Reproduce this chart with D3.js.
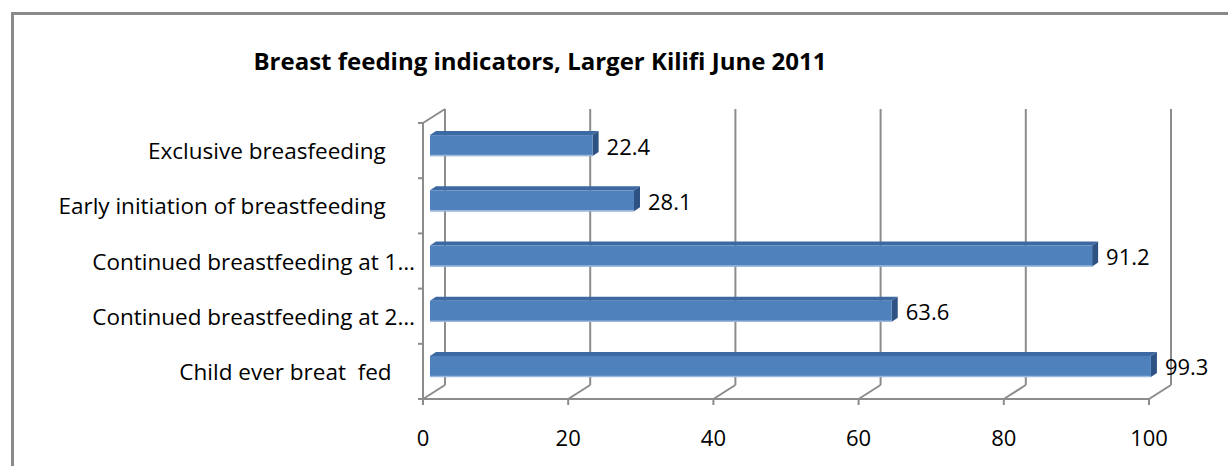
<!DOCTYPE html>
<html>
<head>
<meta charset="utf-8">
<script src="https://cdn.jsdelivr.net/npm/d3@7"></script>
<style>
  body { margin: 0; background: #fff; }
  text { font-family: "Open Sans", sans-serif; fill: #000; }
</style>
</head>
<body>
<div id="chart"></div>
<script>
// data (top to bottom)
const categories = [
  "Exclusive breasfeeding     ",
  "Early initiation of breastfeeding     ",
  "Continued breastfeeding at 1\u2026",
  "Continued breastfeeding at 2\u2026",
  "Child ever breat  fed    "
];
const values = [22.4, 28.1, 91.2, 63.6, 99.3];
const xTicks = [0, 20, 40, 60, 80, 100];
const title = "Breast feeding indicators, Larger Kilifi June 2011";

const W = 1228, H = 466;

// 3D offsets: back wall and bar planes
const wall = {dx: 22, dy: -14};
const barFront = {dx: 7, dy: -5};
const barDepth = {dx: 6, dy: -4};
const barH = 21;

const svg = d3.select("#chart")
  .append("svg")
  .attr("width", W)
  .attr("height", H);

// chart frame
svg.append("rect")
  .attr("x", 12.5).attr("y", 13.5)
  .attr("width", 1300).attr("height", 600)
  .attr("fill", "none")
  .attr("stroke", "#8a8a8a")
  .attr("stroke-width", 3);

svg.append("text")
  .attr("x", 540).attr("y", 60)
  .attr("text-anchor", "middle")
  .attr("dominant-baseline", "central")
  .style("font-weight", "bold")
  .style("font-size", "24px")
  .text(title);

const x = d3.scaleLinear().domain([0, 100]).range([423, 1149]);
const y = d3.scaleBand().domain(categories).range([123, 399]);
const yBottom = 399;
const yTop = 123;

const grid = svg.append("g")
  .attr("stroke", "#8c8c8c")
  .attr("stroke-width", 2)
  .attr("fill", "none");

// back wall gridlines
grid.selectAll(".vg")
  .data(xTicks)
  .join("line")
  .attr("x1", d => x(d) + wall.dx).attr("x2", d => x(d) + wall.dx)
  .attr("y1", yTop + wall.dy).attr("y2", yBottom + wall.dy);

// floor diagonals
grid.selectAll(".fd")
  .data(xTicks)
  .join("line")
  .attr("x1", d => x(d)).attr("x2", d => x(d) + wall.dx)
  .attr("y1", yBottom).attr("y2", yBottom + wall.dy);

// front value axis
grid.append("line")
  .attr("x1", x(0)).attr("x2", x(100))
  .attr("y1", yBottom).attr("y2", yBottom);
grid.selectAll(".xt")
  .data(xTicks)
  .join("line")
  .attr("x1", d => x(d)).attr("x2", d => x(d))
  .attr("y1", yBottom).attr("y2", yBottom + 6);

// category axis (front edge of side wall)
grid.append("line")
  .attr("x1", x(0)).attr("x2", x(0))
  .attr("y1", yTop).attr("y2", yBottom);
grid.append("line")
  .attr("x1", x(0)).attr("x2", x(0) + wall.dx)
  .attr("y1", yTop).attr("y2", yTop + wall.dy);
const bounds = categories.map(c => y(c)).concat([yBottom]);
grid.selectAll(".yt")
  .data(bounds)
  .join("line")
  .attr("x1", x(0) - 5).attr("x2", x(0))
  .attr("y1", d => d).attr("y2", d => d);

// bars
const bars = svg.append("g").selectAll("g")
  .data(categories.map((c, i) => ({c, v: values[i]})))
  .join("g");

const y1 = d => y(d.c) + y.bandwidth() / 2 + barFront.dy - barH / 2;
const x0 = x(0) + barFront.dx;
const xe = d => x(d.v) + barFront.dx;

// top face
bars.append("path")
  .attr("fill", "#3d69a3")
  .attr("d", d => `M${x0},${y1(d)} L${x0 + barDepth.dx},${y1(d) + barDepth.dy} L${xe(d) + barDepth.dx},${y1(d) + barDepth.dy} L${xe(d)},${y1(d)} Z`);
// end face
bars.append("path")
  .attr("fill", "#2e5283")
  .attr("d", d => `M${xe(d)},${y1(d)} L${xe(d) + barDepth.dx},${y1(d) + barDepth.dy} L${xe(d) + barDepth.dx},${y1(d) + barH + barDepth.dy} L${xe(d)},${y1(d) + barH} Z`);
// front face
bars.append("rect")
  .attr("x", x0)
  .attr("y", y1)
  .attr("width", d => xe(d) - x0)
  .attr("height", barH)
  .attr("fill", "#4f81bd");
bars.append("line")
  .attr("x1", x0).attr("x2", d => xe(d))
  .attr("y1", d => y1(d) + barH - 0.5).attr("y2", d => y1(d) + barH - 0.5)
  .attr("stroke", "#9db8dc").attr("stroke-width", 1.5);

// value labels
bars.append("text")
  .attr("x", d => xe(d) + barDepth.dx + 8)
  .attr("y", d => y1(d) + barH / 2)
  .attr("dominant-baseline", "central")
  .style("font-size", "22px")
  .text(d => d.v.toFixed(1));

// category labels
svg.append("g").selectAll("text")
  .data(categories)
  .join("text")
  .attr("x", 415)
  .attr("y", d => y(d) + y.bandwidth() / 2)
  .attr("text-anchor", "end")
  .attr("dominant-baseline", "central")
  .style("white-space", "pre")
  .style("font-size", "22.5px")
  .text(d => d);

// value axis labels
svg.append("g").selectAll("text")
  .data(xTicks)
  .join("text")
  .attr("x", d => x(d))
  .attr("y", 437)
  .attr("text-anchor", "middle")
  .attr("dominant-baseline", "central")
  .style("font-size", "22px")
  .text(d => d);
</script>
</body>
</html>
